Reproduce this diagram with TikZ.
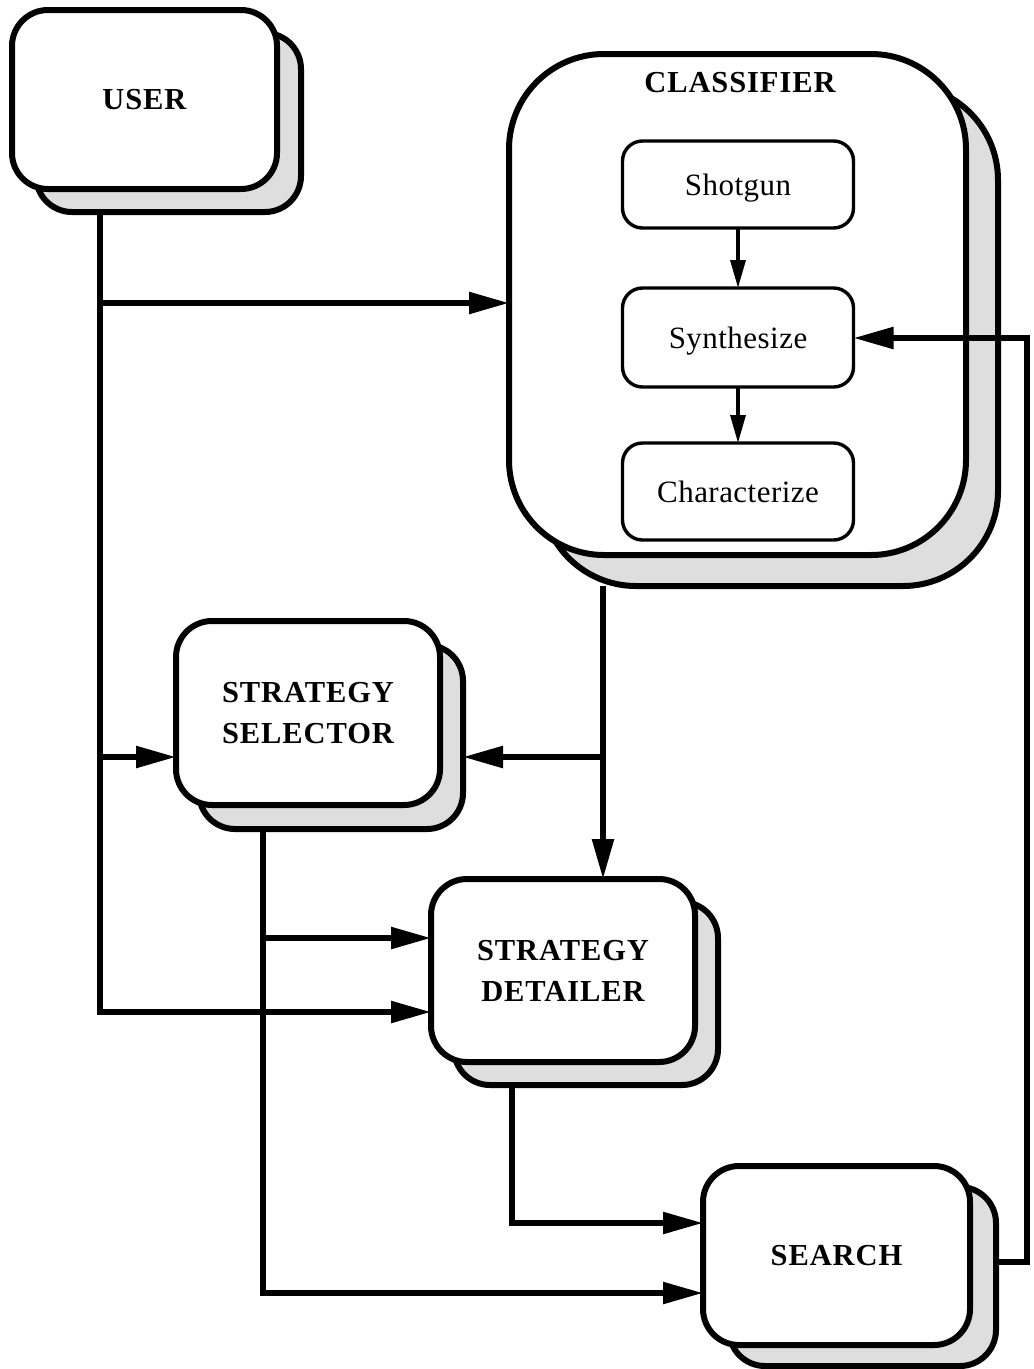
\documentclass[tikz,border=0pt]{standalone}
\usepackage{fontspec}
\setmainfont{Liberation Serif}
\newfontfamily\titlefamily[LetterSpace=3]{Liberation Serif}
\newfontfamily\subfamily[LetterSpace=1.5]{Liberation Serif}
\usetikzlibrary{arrows.meta}

\newcommand\titlefont{\titlefamily\bfseries\fontsize{30.5}{41}\selectfont}
\newcommand\subfont{\subfamily\fontsize{31}{36}\selectfont}

\tikzset{
  unit/.style={inner sep=0pt, outer sep=0pt},
  frontbox/.style={unit, draw, line width=6pt, fill=white, rounded corners=36pt,
    font=\titlefont, align=center},
  backbox/.style={unit, draw, line width=6pt, fill=black!13, rounded corners=36pt},
  subbox/.style={unit, draw, line width=3.4pt, fill=white, rounded corners=20pt,
    minimum width=231pt, font=\subfont, text height=21pt, text depth=0pt},
  link/.style={line width=5.5pt, -{Triangle[length=40pt,width=21pt]}},
  sublink/.style={line width=3.4pt, -{Triangle[length=28pt,width=15pt]}},
}

\begin{document}
\begin{tikzpicture}[x=1pt, y=-1pt]
\useasboundingbox (0,0) rectangle (1034,1369);

% ---- USER ----
\node[backbox, minimum width=265pt, minimum height=179pt] (userS) at (168.5,122.5) {};
\node[frontbox, minimum width=265pt, minimum height=179pt] (user) at (144.5,99.5) {USER};

% ---- CLASSIFIER ----
\node[backbox, rounded corners=95pt, minimum width=457pt, minimum height=501pt] (clsS) at (769.5,335.5) {};
\node[frontbox, rounded corners=95pt, minimum width=457pt, minimum height=501pt] (cls) at (737.5,304.5) {};
\node[unit, font=\titlefont] (clsT) at (740,83) {CLASSIFIER};
\node[subbox, minimum height=87pt] (shot) at (738,184.5) {Shotgun};
\node[subbox, minimum height=99pt] (syn) at (738,337.5) {Synthesize};
\node[subbox, minimum height=97pt] (char) at (738,491.5) {Characterize};

% ---- STRATEGY SELECTOR ----
\node[backbox, minimum width=264pt, minimum height=184pt] (selS) at (331,737) {};
\node[frontbox, minimum width=264pt, minimum height=184pt] (sel) at (308,713) {STRATEGY\\SELECTOR};

% ---- STRATEGY DETAILER ----
\node[backbox, minimum width=264pt, minimum height=183pt] (detS) at (586,993.5) {};
\node[frontbox, minimum width=264pt, minimum height=183pt] (det) at (563,970.5) {STRATEGY\\DETAILER};

% ---- SEARCH ----
\node[backbox, minimum width=267pt, minimum height=179pt] (srchS) at (862.5,1276.5) {};
\node[frontbox, minimum width=267pt, minimum height=179pt] (srch) at (836.5,1255.5) {SEARCH};

% ---- junction points ----
\coordinate (ju1) at (100,303);
\coordinate (ju2) at (100,757);
\coordinate (ju3) at (100,1012);
\coordinate (jc)  at (603,757);
\coordinate (js1) at (263,938);
\coordinate (js2) at (263,1293);
\coordinate (jd)  at (512,1223);
\coordinate (jf1) at (1027,1262);
\coordinate (jf2) at (1027,338);

% ---- connectors ----
\draw[link] (userS.south -| ju3) -- (ju3) -- (ju3 -| det.west);
\draw[link] (ju1) -- (ju1 -| cls.west);
\draw[link] (ju2) -- (ju2 -| sel.west);

\draw[link] (clsS.south -| jc) -- (jc |- det.north);
\draw[link] (jc) -- (jc -| selS.east);

\draw[link] (selS.south -| js2) -- (js2) -- (js2 -| srch.west);
\draw[link] (js1) -- (js1 -| det.west);

\draw[link] (detS.south -| jd) -- (jd) -- (jd -| srch.west);

\draw[link] (jf1 -| srchS.east) -- (jf1) -- (jf2) -- (jf2 -| syn.east);

\draw[sublink] (shot) -- (syn);
\draw[sublink] (syn) -- (char);
\end{tikzpicture}
\end{document}
